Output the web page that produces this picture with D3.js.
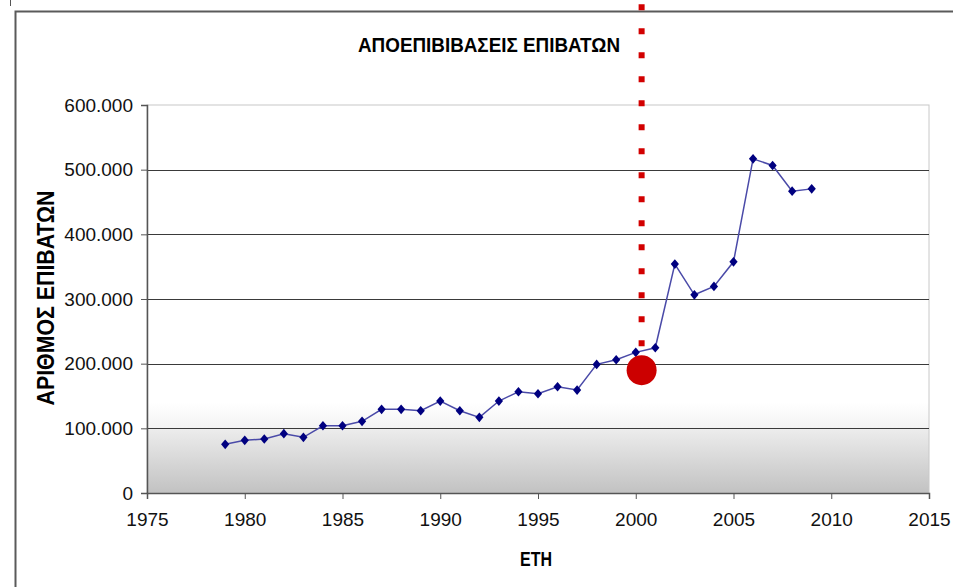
<!DOCTYPE html>
<html>
<head>
<meta charset="utf-8">
<script src="https://cdn.jsdelivr.net/npm/d3@7"></script>
<style>
  body { margin: 0; background: #fff; }
  svg { display: block; }
  text { font-family: Arial, "Liberation Sans", sans-serif; }
</style>
</head>
<body>
<div id="chart"></div>
<script>
// data: passengers disembarked per year
var years = [1979, 1980, 1981, 1982, 1983, 1984, 1985, 1986, 1987, 1988,
  1989, 1990, 1991, 1992, 1993, 1994, 1995, 1996, 1997, 1998,
  1999, 2000, 2001, 2002, 2003, 2004, 2005, 2006, 2007, 2008, 2009];
var passengers = [75300, 81500, 83500, 91700, 86100, 104000, 104000, 110800, 129400, 129400,
  127200, 142200, 127200, 117000, 142200, 156600, 153500, 164300, 159200, 198900,
  206000, 217500, 224600, 354000, 306500, 319500, 357500, 516700, 506500, 466800, 470300];
var xTicks = [1975, 1980, 1985, 1990, 1995, 2000, 2005, 2010, 2015];
var yTicks = [0, 100000, 200000, 300000, 400000, 500000, 600000];
// marker year (red dotted line + circle)
var markYear = 2000.3;
var markValue = 190000;

var W = 953, H = 587;
var svg = d3.select("#chart").append("svg")
    .attr("width", W)
    .attr("height", H);

var x = d3.scaleLinear().domain([1975, 2015]).range([147, 929]);
var y = d3.scaleLinear().domain([0, 600000]).range([493, 105]);

var gr = d3.formatLocale({decimal: ",", thousands: ".", grouping: [3], currency: ["", "€"]});
var fmt = gr.format(",");

// gradient background of plot area
var defs = svg.append("defs");
var grad = defs.append("linearGradient")
    .attr("id", "bg")
    .attr("x1", 0).attr("y1", 0).attr("x2", 0).attr("y2", 1);
var plotH = y(0) - y(600000);
function off(v) { return ((y(v) - y(600000)) / plotH * 100) + "%"; }
grad.append("stop").attr("offset", "0%").attr("stop-color", "#ffffff");
grad.append("stop").attr("offset", off(140000)).attr("stop-color", "#ffffff");
grad.append("stop").attr("offset", off(100000)).attr("stop-color", "#f3f3f3");
grad.append("stop").attr("offset", off(98000)).attr("stop-color", "#ececec");
grad.append("stop").attr("offset", "100%").attr("stop-color", "#c2c2c2");

// outer frame (left + top)
svg.append("path")
    .attr("d", "M15.5," + H + " L15.5,11.5 L" + W + ",11.5")
    .attr("fill", "none")
    .attr("stroke", "#5a5a5a")
    .attr("stroke-width", 2);
svg.append("line")
    .attr("x1", 10.5).attr("x2", 10.5).attr("y1", 0).attr("y2", 6)
    .attr("stroke", "#555");

svg.append("rect")
    .attr("x", x(1975)).attr("y", y(600000))
    .attr("width", x(2015) - x(1975))
    .attr("height", plotH)
    .attr("fill", "url(#bg)")
    .attr("stroke", "#c8c8c8");

// gridlines
svg.append("g")
  .selectAll("line")
  .data(yTicks.filter(function(d) { return d > 0 && d < 600000; }))
  .enter()
    .append("line")
    .attr("x1", x(1975)).attr("x2", x(2015))
    .attr("y1", function(d) { return Math.round(y(d)) + 0.5; })
    .attr("y2", function(d) { return Math.round(y(d)) + 0.5; })
    .attr("stroke", "#3a3a3a")
    .attr("stroke-width", 1.2);

// axes
var yAxis = svg.append("g")
    .attr("transform", "translate(" + x(1975) + ",0)")
    .call(d3.axisLeft(y).tickValues(yTicks).tickFormat(fmt).tickSize(6).tickPadding(8));
var xAxis = svg.append("g")
    .attr("transform", "translate(0," + y(0) + ")")
    .call(d3.axisBottom(x).tickValues(xTicks).tickFormat(d3.format("d")).tickSize(6).tickPadding(18));

[yAxis, xAxis].forEach(function(a) {
  a.select(".domain").attr("stroke", "#555").attr("stroke-width", 1.5);
  a.selectAll(".tick line").attr("stroke", "#555");
  a.selectAll("text")
    .attr("font-size", 19)
    .attr("fill", "#111")
    .style("font-family", "Arial, 'Liberation Sans', sans-serif");
});
xAxis.selectAll("text").attr("dy", "0.45em");

// series line
var line = d3.line()
    .x(function(d, i) { return x(years[i]); })
    .y(function(d) { return y(d); });
svg.append("path")
    .datum(passengers)
    .attr("d", line)
    .attr("fill", "none")
    .attr("stroke", "#4a4aa8")
    .attr("stroke-width", 1.5);

// diamond markers (rotated squares, slightly taller than wide)
svg.selectAll(".pt")
  .data(passengers)
  .enter()
    .append("path")
    .attr("class", "pt")
    .attr("d", d3.symbol().type(d3.symbolSquare).size(40))
    .attr("transform", function(d, i) {
      return "translate(" + x(years[i]) + "," + y(d) + ") scale(0.92,1.08) rotate(45)";
    })
    .attr("fill", "#000080");

// red dotted marker line and circle
svg.append("line")
    .attr("x1", x(markYear)).attr("x2", x(markYear))
    .attr("y1", 4.3).attr("y2", 347)
    .attr("stroke", "#d20000")
    .attr("stroke-width", 6)
    .attr("stroke-dasharray", "6,18");
svg.append("circle")
    .attr("cx", x(markYear))
    .attr("cy", y(markValue))
    .attr("r", 15)
    .attr("fill", "#cc0000");

// titles
svg.append("text")
    .attr("x", 489).attr("y", 52)
    .attr("text-anchor", "middle")
    .attr("font-weight", "bold")
    .attr("font-size", 21)
    .attr("textLength", 262)
    .attr("lengthAdjust", "spacingAndGlyphs")
    .style("font-family", "'Liberation Sans Narrow', 'Arial Narrow', sans-serif")
    .text("ΑΠΟΕΠΙΒΙΒΑΣΕΙΣ ΕΠΙΒΑΤΩΝ");

svg.append("text")
    .attr("transform", "translate(54,298) rotate(-90)")
    .attr("text-anchor", "middle")
    .attr("font-weight", "bold")
    .attr("font-size", 23)
    .attr("textLength", 215)
    .attr("lengthAdjust", "spacingAndGlyphs")
    .text("ΑΡΙΘΜΟΣ ΕΠΙΒΑΤΩΝ");

svg.append("text")
    .attr("x", 536).attr("y", 566)
    .attr("text-anchor", "middle")
    .attr("font-weight", "bold")
    .attr("font-size", 21)
    .attr("textLength", 32)
    .attr("lengthAdjust", "spacingAndGlyphs")
    .style("font-family", "'Liberation Sans Narrow', 'Arial Narrow', sans-serif")
    .text("ΕΤΗ");
</script>
</body>
</html>
